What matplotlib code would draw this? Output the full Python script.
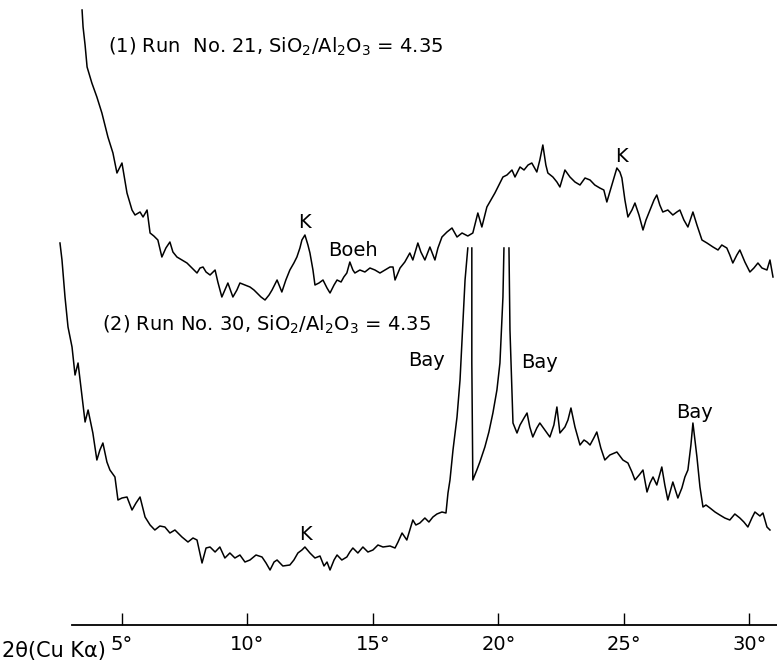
import numpy as np
import matplotlib
matplotlib.use('Agg')
import matplotlib.pyplot as plt
from matplotlib.ticker import FixedLocator, FixedFormatter

nan = np.nan

# (1) Run No. 21 -- 2theta (deg) and intensity (arbitrary units)
two_theta_1 = [
  3.41, 3.45, 3.53, 3.61, 3.80, 4.00, 4.20, 4.44, 4.64, 4.80,
  5.00, 5.20, 5.40, 5.52, 5.72, 5.84, 6.00, 6.12, 6.27, 6.43,
  6.59, 6.75, 6.91, 7.03, 7.19, 7.39, 7.59, 7.79, 7.99, 8.11,
  8.23, 8.35, 8.51, 8.71, 8.82, 8.98, 9.10, 9.22, 9.42, 9.58,
  9.70, 9.90, 10.10, 10.26, 10.38, 10.54, 10.70, 10.86, 10.98, 11.18,
  11.37, 11.53, 11.69, 11.85, 11.97, 12.09, 12.17, 12.29, 12.41, 12.49,
  12.61, 12.69, 12.85, 13.01, 13.17, 13.29, 13.45, 13.57, 13.73, 13.84,
  13.96, 14.08, 14.20, 14.28, 14.48, 14.68, 14.88, 15.08, 15.28, 15.48,
  15.68, 15.80, 15.88, 16.08, 16.27, 16.47, 16.59, 16.79, 16.91, 17.07,
  17.27, 17.47, 17.59, 17.75, 17.95, 18.15, 18.35, 18.55, 18.78, 18.98,
  19.18, 19.34, 19.54, 19.70, 19.86, 20.02, 20.18, 20.34, 20.54, 20.66,
  20.86, 21.02, 21.18, 21.33, 21.53, 21.65, 21.77, 21.89, 21.97, 22.17,
  22.33, 22.45, 22.65, 22.85, 23.05, 23.25, 23.45, 23.65, 23.84, 24.04,
  24.20, 24.32, 24.52, 24.72, 24.84, 24.92, 25.04, 25.16, 25.32, 25.44,
  25.60, 25.76, 25.88, 26.04, 26.20, 26.31, 26.43, 26.55, 26.75, 26.95,
  27.11, 27.23, 27.39, 27.55, 27.75, 27.91, 28.11, 28.31, 28.55, 28.75,
  28.90, 29.10, 29.22, 29.34, 29.50, 29.62, 29.82, 30.02, 30.18, 30.34,
  30.50, 30.70, 30.82, 30.94,
]
intensity_1 = [
  652, 635, 617, 595, 579, 565, 549, 525, 509, 489,
  499, 469, 452, 447, 450, 445, 452, 429, 426, 422,
  405, 414, 420, 410, 405, 402, 399, 394, 389, 394,
  395, 390, 387, 392, 380, 365, 372, 379, 365, 372,
  379, 377, 375, 372, 369, 365, 362, 367, 372, 382,
  370, 382, 392, 399, 405, 414, 422, 427, 417, 409,
  392, 377, 379, 382, 374, 369, 377, 382, 380, 385,
  389, 400, 392, 389, 392, 390, 394, 392, 389, 392,
  395, 395, 382, 394, 400, 409, 402, 419, 410, 402,
  415, 402, 414, 425, 430, 434, 425, 429, 426, 429,
  449, 435, 455, 462, 469, 477, 485, 487, 492, 485,
  495, 492, 497, 499, 490, 502, 517, 497, 489, 485,
  480, 475, 492, 485, 480, 477, 484, 482, 477, 474,
  472, 460, 477, 494, 490, 484, 462, 445, 452, 459,
  447, 432, 442, 452, 462, 467, 457, 450, 452, 447,
  450, 452, 442, 435, 450, 437, 422, 419, 415, 412,
  417, 414, 407, 399, 407, 412, 400, 390, 394, 399,
  394, 392, 402, 385,
]

# (2) Run No. 30 -- Bayerite peaks run off the top of the chart (gaps)
two_theta_2 = [
  2.53, 2.61, 2.73, 2.85, 3.01, 3.13, 3.25, 3.41, 3.53, 3.65,
  3.84, 4.00, 4.12, 4.24, 4.40, 4.52, 4.72, 4.84, 5.00, 5.20,
  5.40, 5.56, 5.72, 5.92, 6.12, 6.31, 6.51, 6.71, 6.91, 7.11,
  7.39, 7.63, 7.83, 7.99, 8.19, 8.35, 8.51, 8.71, 8.90, 9.10,
  9.30, 9.50, 9.70, 9.90, 10.10, 10.34, 10.58, 10.74, 10.90, 11.06,
  11.18, 11.41, 11.69, 11.85, 12.01, 12.17, 12.29, 12.49, 12.69, 12.89,
  13.05, 13.17, 13.29, 13.45, 13.57, 13.76, 13.96, 14.08, 14.20, 14.40,
  14.60, 14.80, 15.00, 15.20, 15.40, 15.68, 15.88, 16.00, 16.16, 16.35,
  16.47, 16.59, 16.71, 16.87, 17.07, 17.23, 17.39, 17.55, 17.75, 17.91,
  17.99, 18.07, 18.19, 18.35, 18.47, 18.55, 18.67, 18.78, 18.86, 18.94,
  18.94, 18.98, 19.06, 19.14, 19.26, 19.46, 19.62, 19.78, 19.94, 20.06,
  20.18, 20.22, 20.32, 20.42, 20.46, 20.58, 20.74, 20.86, 21.02, 21.14,
  21.25, 21.37, 21.53, 21.65, 21.85, 22.05, 22.21, 22.33, 22.45, 22.65,
  22.77, 22.89, 23.05, 23.25, 23.41, 23.53, 23.65, 23.80, 23.92, 24.08,
  24.24, 24.44, 24.72, 24.96, 25.16, 25.32, 25.44, 25.64, 25.76, 25.92,
  26.04, 26.16, 26.31, 26.51, 26.63, 26.75, 26.95, 27.15, 27.31, 27.43,
  27.55, 27.67, 27.75, 27.83, 27.91, 28.03, 28.15, 28.27, 28.43, 28.63,
  28.82, 29.02, 29.22, 29.42, 29.62, 29.78, 29.94, 30.10, 30.22, 30.42,
  30.54, 30.70, 30.82,
]
intensity_2 = [
  419, 402, 365, 335, 315, 287, 299, 265, 240, 252,
  229, 202, 212, 219, 200, 192, 185, 162, 164, 165,
  152, 159, 165, 145, 137, 132, 136, 135, 129, 132,
  125, 120, 124, 122, 99, 114, 115, 110, 115, 104,
  109, 104, 107, 100, 102, 107, 105, 99, 92, 100,
  102, 96, 97, 102, 109, 112, 115, 109, 104, 106,
  96, 100, 92, 102, 107, 102, 105, 110, 114, 109,
  115, 110, 112, 117, 115, 116, 114, 120, 129, 122,
  132, 142, 137, 139, 144, 140, 145, 148, 150, 149,
  169, 182, 212, 245, 282, 322, 382, 414, nan, 414,
  299, 182, 187, 192, 200, 215, 230, 249, 272, 299,
  365, 414, nan, 414, 332, 239, 229, 237, 244, 249,
  235, 225, 234, 239, 232, 225, 237, 255, 229, 235,
  242, 254, 235, 217, 222, 220, 217, 224, 230, 214,
  202, 207, 210, 202, 199, 190, 182, 188, 192, 170,
  179, 185, 177, 195, 177, 162, 180, 164, 174, 185,
  192, 217, 239, 222, 205, 175, 155, 157, 154, 150,
  147, 144, 142, 148, 144, 140, 135, 144, 150, 146,
  149, 135, 132,
]

tick_values = [5, 10, 15, 20, 25, 30]
tick_labels = [str(v) + u'\u00b0' for v in tick_values]

# peak labels: (text, 2theta, intensity)
peak_labels = [
  ('K', 12.29, 440), ('Boeh', 14.20, 412), ('K', 24.92, 505),
  ('Bay', 17.15, 301), ('Bay', 21.65, 300), ('Bay', 27.83, 250),
  ('K', 12.33, 128),
]

fig = plt.figure(figsize=(7.77, 6.62), dpi=100)
ax = fig.add_axes([0, 37 / 662.0, 1, 1 - 37 / 662.0])

ax.plot(two_theta_1, intensity_1, color='black', lw=1.1)
ax.plot(two_theta_2, intensity_2, color='black', lw=1.1)

ax.set_xlim(0.14, 31.1)
ax.set_ylim(37, 662)

for s in ['top', 'left', 'right']:
  ax.spines[s].set_visible(False)
ax.spines['bottom'].set_bounds(3.0, 31.1)
ax.spines['bottom'].set_linewidth(1.3)
ax.yaxis.set_visible(False)
ax.xaxis.set_major_locator(FixedLocator(tick_values))
ax.xaxis.set_major_formatter(FixedFormatter(tick_labels))
ax.tick_params(axis='x', direction='in', length=9, width=1.0, pad=7, labelsize=14)

ax.text(4.44, 615, '(1) Run  No. 21, SiO$_2$/Al$_2$O$_3$ = 4.35',
        fontsize=14, ha='left', va='center')
ax.text(4.20, 337, '(2) Run No. 30, SiO$_2$/Al$_2$O$_3$ = 4.35',
        fontsize=14, ha='left', va='center')

for txt, x, y in peak_labels:
  ax.text(x, y, txt, fontsize=14, ha='center', va='center')

fig.text(0.003, 0.002, u'2\u03b8(Cu K\u03b1)', fontsize=15, ha='left', va='bottom')

plt.savefig('out.png', dpi=100)
